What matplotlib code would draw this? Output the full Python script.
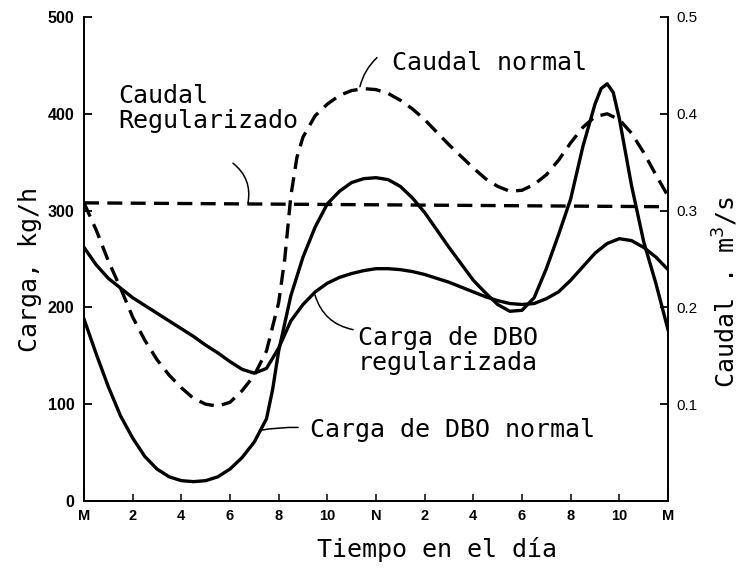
import matplotlib
matplotlib.use("Agg")
import matplotlib.pyplot as plt

# Hour of day (0 = midnight, 12 = noon, 24 = midnight)
hours_caudal = [0, 0.5, 1.0, 1.5, 2.0, 2.5, 3.0, 3.5, 4.0, 4.5, 5.0, 5.5, 6.0,
                6.5, 7.0, 7.5, 8.0, 8.25, 8.5, 8.75, 9.0, 9.5, 10.0, 10.5,
                11.0, 11.5, 12.0, 12.5, 13.0, 13.5, 14.0, 14.5, 15.0, 15.5,
                16.0, 16.5, 17.0, 17.5, 18.0, 18.5, 19.0, 19.5, 20.0, 20.5,
                21.0, 21.5, 22.0, 22.5, 23.0, 23.5, 24.0]
# Caudal normal, m3/s
caudal_normal = [0.308, 0.280, 0.248, 0.220, 0.190, 0.166, 0.146, 0.130,
                 0.117, 0.106, 0.100, 0.098, 0.102, 0.114, 0.130, 0.155,
                 0.205, 0.250, 0.315, 0.355, 0.376, 0.398, 0.410, 0.419,
                 0.424, 0.426, 0.425, 0.421, 0.414, 0.405, 0.394, 0.381,
                 0.368, 0.356, 0.344, 0.333, 0.325, 0.320, 0.321, 0.327,
                 0.337, 0.352, 0.370, 0.386, 0.397, 0.400, 0.394, 0.380,
                 0.360, 0.337, 0.315]

# Caudal regularizado, m3/s
hours_reg = [0, 24]
caudal_reg = [0.308, 0.304]

hours_carga = [0, 0.5, 1.0, 1.5, 2.0, 2.5, 3.0, 3.5, 4.0, 4.5, 5.0, 5.5, 6.0,
               6.5, 7.0, 7.5, 7.75, 8.0, 8.5, 9.0, 9.5, 10.0, 10.5, 11.0,
               11.5, 12.0, 12.5, 13.0, 13.5, 14.0, 14.5, 15.0, 15.5, 16.0,
               16.5, 17.0, 17.5, 18.0, 18.5, 19.0, 19.5, 20.0, 20.5, 21.0,
               21.25, 21.5, 21.75, 22.0, 22.5, 23.0, 23.5, 24.0]
# Carga de DBO normal, kg/h
carga_normal = [188, 152, 118, 88, 65, 46, 33, 25, 21, 20, 21, 25, 33,
                45, 61, 85, 115, 155, 212, 252, 283, 307, 320, 329,
                333, 334, 332, 325, 313, 298, 280, 262, 245, 228,
                215, 203, 196, 197, 210, 240, 275, 312, 366, 410,
                426, 431, 422, 395, 326, 268, 225, 177]

hours_carga_reg = [0, 0.5, 1.0, 1.5, 2.0, 2.5, 3.0, 3.5, 4.0, 4.5, 5.0, 5.5,
                   6.0, 6.5, 7.0, 7.5, 8.0, 8.5, 9.0, 9.5, 10.0, 10.5, 11.0,
                   11.5, 12.0, 12.5, 13.0, 13.5, 14.0, 14.5, 15.0, 15.5, 16.0,
                   16.5, 17.0, 17.5, 18.0, 18.5, 19.0, 19.5, 20.0, 20.5, 21.0,
                   21.5, 22.0, 22.5, 23.0, 23.5, 24.0]
# Carga de DBO regularizada, kg/h
carga_reg = [262, 244, 230, 220, 210, 202, 194, 186, 178, 170, 161, 153,
             144, 136, 132, 137, 158, 186, 203, 216, 225, 231, 235,
             238, 240, 240, 239, 237, 234, 230, 226, 221, 216,
             211, 207, 204, 203, 204, 209, 216, 228, 242, 256,
             266, 271, 269, 262, 252, 239]

x_ticks = list(range(0, 25, 2))
x_labels = ["M", "2", "4", "6", "8", "10", "N", "2", "4", "6", "8", "10", "M"]
left_ticks = [0, 100, 200, 300, 400, 500]
right_ticks = [0.1, 0.2, 0.3, 0.4, 0.5]

mono = "DejaVu Sans Mono"
txt = dict(family=mono, fontsize=18, color="black")

fig = plt.figure(figsize=(7.43, 5.75), dpi=100)
ax = fig.add_axes([84 / 743, 74 / 575, 584 / 743, 484 / 575])
ax2 = ax.twinx()

dash = (4.5, 2.5)
ax2.plot(hours_caudal, caudal_normal, color="black", lw=2.4,
         linestyle=(0, dash))
ax2.plot(hours_reg, caudal_reg, color="black", lw=2.4,
         linestyle=(0, dash))
ax.plot(hours_carga, carga_normal, color="black", lw=2.4)
ax.plot(hours_carga_reg, carga_reg, color="black", lw=2.4)

ax.set_xlim(0, 24)
ax.set_ylim(0, 500)
ax2.set_ylim(0, 0.5)

ax.set_xticks(x_ticks)
ax.set_xticklabels(x_labels, fontsize=10.5, fontweight="bold",
                   family="Liberation Sans")
ax.set_yticks(left_ticks)
ax.set_yticklabels([str(v) for v in left_ticks], fontsize=11.5,
                   fontweight="bold", family="Liberation Sans")
ax2.set_yticks(right_ticks)
ax2.set_yticklabels([f"{v:.1f}" for v in right_ticks], fontsize=11,
                    family="Liberation Sans")

for a in (ax, ax2):
    a.spines["top"].set_visible(False)
    for s in ("left", "right", "bottom"):
        a.spines[s].set_linewidth(1.3)
ax.tick_params(axis="y", direction="in", length=6, width=1.3, pad=7)
ax.tick_params(axis="x", direction="in", length=5, width=1.1, pad=6)
ax2.tick_params(axis="y", direction="in", length=6, width=1.3, pad=6)

# Curve labels
ax.text(1.4, 405, "Caudal\nRegularizado", va="center", ha="left",
        linespacing=1.05, **txt)
ax.text(12.66, 452, "Caudal normal", va="center", ha="left", **txt)
ax.text(11.26, 155, "Carga de DBO\nregularizada", va="center", ha="left",
        linespacing=1.05, **txt)
ax.text(9.29, 73, "Carga de DBO normal", va="center", ha="left", **txt)

# Leader lines from labels to curves
lead = dict(arrowstyle="-", lw=1.1, color="black", shrinkA=0, shrinkB=0)
ax.annotate("", xy=(11.34, 428), xytext=(12.04, 458),
            arrowprops=dict(connectionstyle="arc3,rad=0.15", **lead))
ax.annotate("", xy=(6.74, 308), xytext=(6.12, 349),
            arrowprops=dict(connectionstyle="arc3,rad=-0.3", **lead))
ax.annotate("", xy=(9.49, 213), xytext=(11.06, 177),
            arrowprops=dict(connectionstyle="arc3,rad=-0.3", **lead))
ax.annotate("", xy=(7.23, 73), xytext=(8.8, 76),
            arrowprops=dict(connectionstyle="arc3,rad=0.05", **lead))

# Axis titles
fig.text(30 / 743, 1 - 270 / 575, "Carga, kg/h", rotation=90,
         ha="center", va="center", **txt)
fig.text(725 / 743, 1 - 292 / 575, "Caudal . m$^3$/s", rotation=90,
         ha="center", va="center", **txt)
fig.text(437 / 743, 1 - 550 / 575, "Tiempo en el día",
         ha="center", va="center", **txt)

fig.savefig("out.png", dpi=100, facecolor="white")
